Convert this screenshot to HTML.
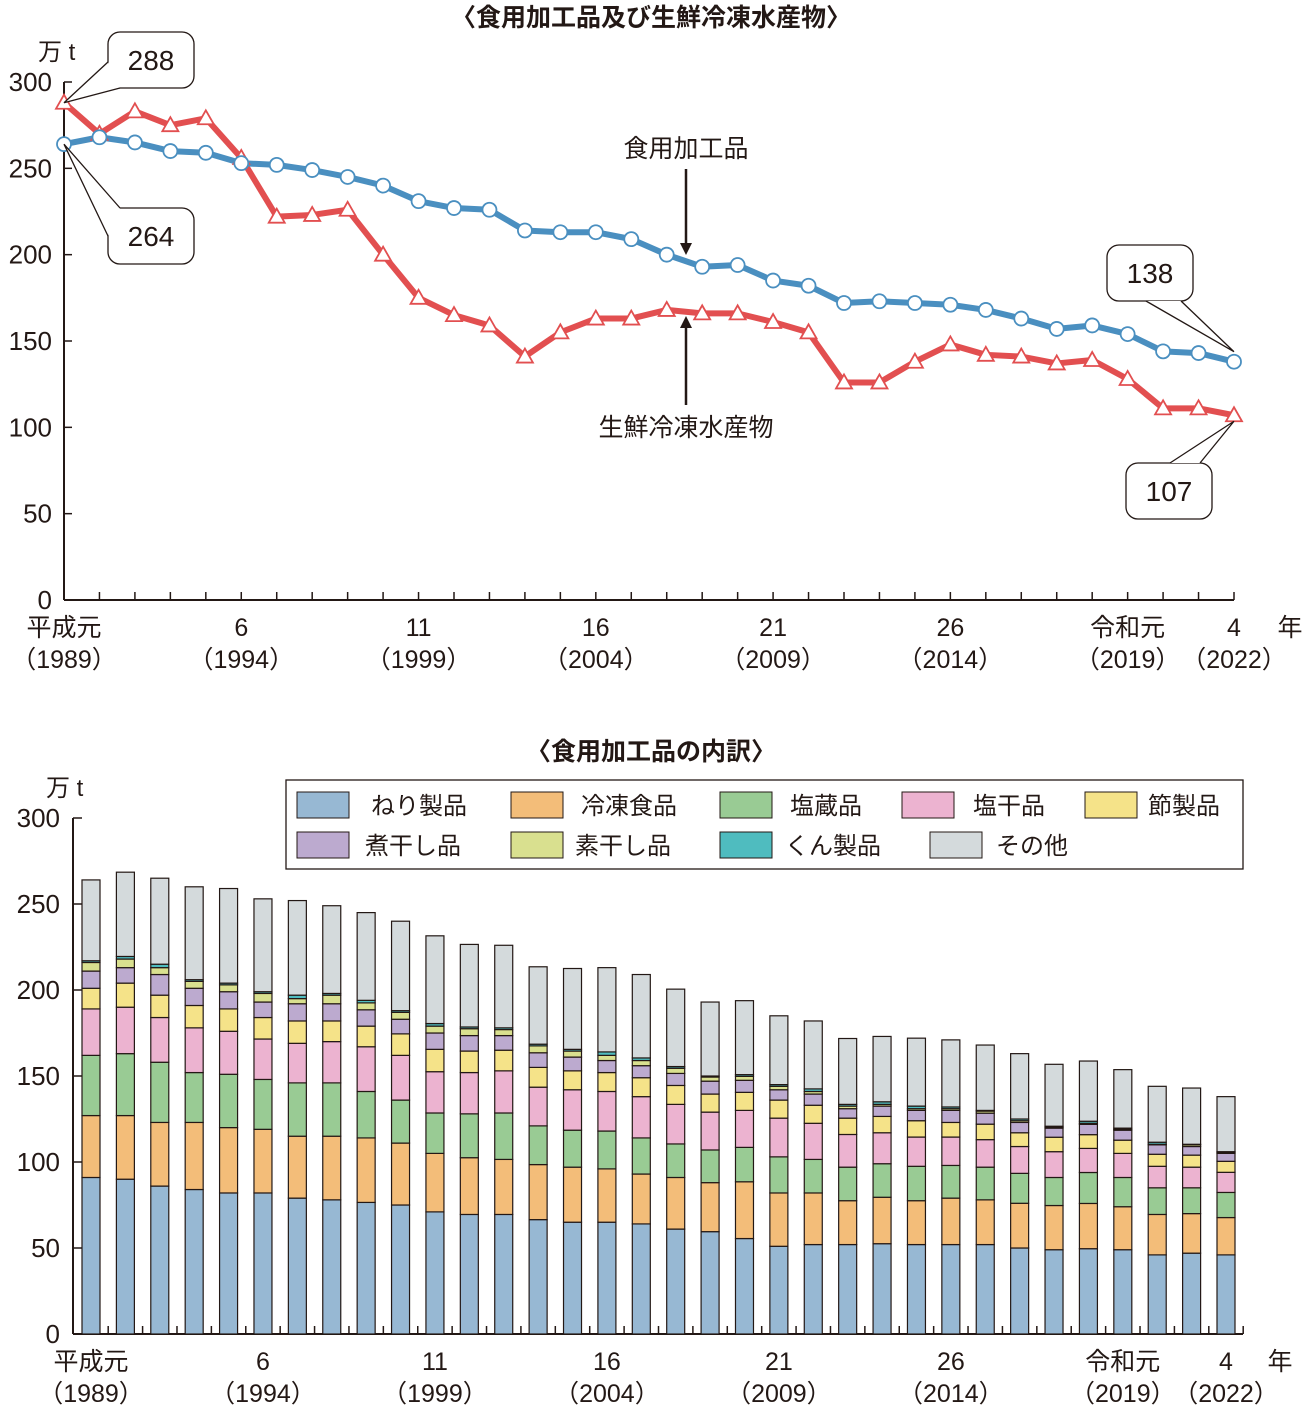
<!DOCTYPE html>
<html><head><meta charset="utf-8"><style>
html,body{margin:0;padding:0;background:#fff;}
svg{display:block;font-family:"Liberation Sans","Noto Sans CJK JP",sans-serif;}
</style></head><body>
<svg id="c" width="1302" height="1406" viewBox="0 0 1302 1406" xmlns="http://www.w3.org/2000/svg">
<text x="651" y="26" text-anchor="middle" font-size="25" font-weight="bold" fill="#231815">〈食用加工品及び生鮮冷凍水産物〉</text>
<text x="651" y="760" text-anchor="middle" font-size="25" font-weight="bold" fill="#231815">〈食用加工品の内訳〉</text>
<g id="topg"></g>
<g id="botg"></g>
</svg>
<script>
const years = [1989,1990,1991,1992,1993,1994,1995,1996,1997,1998,1999,2000,2001,2002,2003,2004,2005,2006,2007,2008,2009,2010,2011,2012,2013,2014,2015,2016,2017,2018,2019,2020,2021,2022];
const processedFood = [264,268,265,260,259,253,252,249,245,240,231,227,226,214,213,213,209,200,193,194,185,182,172,173,172,171,168,163,157,159,154,144,143,138];
const freshFrozen = [288,270,283,275,279,256,222,223,226,200,175,165,159,141,155,163,163,168,166,166,161,155,126,126,138,148,142,141,137,139,128,111,111,107];
const yTicks = [0,50,100,150,200,250,300];
const xLabelsTop = ["平成元","6","11","16","21","26","令和元","4"];
const xLabelsYears = ["（1989）","（1994）","（1999）","（2004）","（2009）","（2014）","（2019）","（2022）"];
const labelIdx = [0,5,10,15,20,25,30,33];

const seriesNames = ["ねり製品","冷凍食品","塩蔵品","塩干品","節製品","煮干し品","素干し品","くん製品","その他"];
const neri = [91,90,86,84,82,82,79,78,76.5,75,71,69.5,69.5,66.5,65,65,64,61,59.5,55.5,51,52,52,52.5,52,52,52,50,49,49.6,49,46,47,46];
const reitou = [36,37,37,39,38,37,36,37,37.5,36,34,33,32,32,32,31,29,30,28.5,33,31,30,25.5,27,25.5,27,26,26,25.7,26.3,25,23.5,23,21.7];
const enzou = [35,36,35,29,31,29,31,31,27,25,23.5,25.5,27,22.5,21.5,22,21,19.5,19,20,21,19.5,19.5,19.5,20,19,19,17.4,16.3,18,17,15.5,15,14.6];
const enkan = [27,27,26,26,25,23.5,23,24,26,26,24,24,24.5,22.5,23.5,23,24,23,22,21.5,22.5,21,19,18,17,16.5,16,15.6,15,14,14,12.5,12,11.7];
const bushi = [12,14,13,13,13,12.5,13,12,12,12.5,13,12.5,12,11.5,11,11,11,11,10.5,10.5,10.5,10.5,9.5,9.5,9.5,8.5,9,8,8.4,8,7.7,7,7,6.4];
const niboshi = [10,9,12,10,10,9,10,10,9.5,8.5,9.5,9,8.5,8.5,8,7,7,7,7.5,7,6,6.5,5.5,6,6,7,6.4,6,5.3,6,5.8,5.5,5,4.6];
const suboshi = [5,5,4,4,4,5,3,5,4,4,4,4,3.5,4,3.5,3,3,3,2.4,2.3,2,1.5,1.5,1,1,1,1.2,1,0.5,0.6,0.5,0.3,1,0.7];
const kunsei = [1,1.5,2,1,1,1,2,1,1.5,1,1.5,1,1,1,1,2,1.5,1,0.6,1,1,1.5,1,1.5,1.5,1,0.4,1,0.6,1.2,0.7,1.2,0.3,0.3];
const sonota = [47,49,50,54,55,54,55,51,51,52,51,48,48,45,47,49,48.5,45,43,43,40,39.5,38.3,38,39.5,39,38,38,36,35,34,32.5,32.7,32];
const seriesColors = ["#97b8d3","#f3bd79","#99cb94","#ecb3d0","#f5e389","#bcaacf","#d9e08f","#4fbcbf","#d4dadc"];

const NS="http://www.w3.org/2000/svg";
function mk(tag, attrs, parent, text){const el=document.createElementNS(NS,tag);for(const k in attrs)el.setAttribute(k,attrs[k]);if(text!==undefined)el.textContent=text;parent.appendChild(el);return el;}
const topG=document.getElementById('topg'), botG=document.getElementById('botg');
const INK="#231815";

// ---------- TOP LINE CHART ----------
const tx0=64, tx1=1234, ty0=600, ty300=82;
const txS = i => tx0 + i*(tx1-tx0)/(years.length-1);
const tyS = v => ty0 - v*(ty0-ty300)/300;
let e;
e=mk('line',{x1:tx0,y1:ty300,x2:tx0,y2:ty0,stroke:INK,'stroke-width':2},topG);


e=mk('line',{x1:tx0,y1:ty0,x2:tx1,y2:ty0,stroke:INK,'stroke-width':2},topG);


yTicks.forEach(v=>{
  if(v>0){e=mk('line',{x1:tx0,y1:tyS(v),x2:tx0+8,y2:tyS(v),stroke:INK,'stroke-width':1.5},topG);
  
  }
  e=mk('text',{x:52,y:tyS(v)+9,'text-anchor':'end','font-size':26,fill:INK},topG,String(v));
  
  
});
e=mk('text',{x:38,y:60,'font-size':24,fill:INK},topG,"万 t");


years.forEach((y,i)=>{ if(i>0){e=mk('line',{x1:txS(i),y1:ty0,x2:txS(i),y2:ty0-8,stroke:INK,'stroke-width':1.5},topG);
  
  }});
labelIdx.forEach((li,k)=>{
  e=mk('text',{x:txS(li),y:636,'text-anchor':'middle','font-size':25,fill:INK},topG,xLabelsTop[k]);
  
  
  e=mk('text',{x:txS(li),y:668,'text-anchor':'middle','font-size':25,fill:INK},topG,xLabelsYears[k]);
  
  
});
e=mk('text',{x:1290,y:636,'text-anchor':'middle','font-size':25,fill:INK},topG,"年");



e=mk('polyline',{points:freshFrozen.map((v,i)=>txS(i)+','+tyS(v)).join(' '),fill:'none',stroke:'#e24f50','stroke-width':6,'stroke-linejoin':'round'},topG);


e=mk('polyline',{points:processedFood.map((v,i)=>txS(i)+','+tyS(v)).join(' '),fill:'none',stroke:'#4a8fc0','stroke-width':6,'stroke-linejoin':'round'},topG);


freshFrozen.forEach((v,i)=>{const x=txS(i),y=tyS(v);
  e=mk('polygon',{points:`${x},${y-8} ${x-8},${y+6} ${x+8},${y+6}`,fill:'#fff',stroke:'#e24f50','stroke-width':1.8},topG);
  
  });
processedFood.forEach((v,i)=>{
  e=mk('circle',{cx:txS(i),cy:tyS(v),r:7,fill:'#fff',stroke:'#4a8fc0','stroke-width':1.8},topG);
  
  });

function callout(bx,by,bw,bh,b1,b2,tipx,tipy,txt,name){
  const g=mk('g',{},topG);
  
  
  mk('rect',{x:bx,y:by,width:bw,height:bh,rx:12,fill:'#fff',stroke:INK,'stroke-width':1.3},g);
  mk('polygon',{points:`${b1[0]},${b1[1]} ${tipx},${tipy} ${b2[0]},${b2[1]}`,fill:'#fff',stroke:'none'},g);
  mk('polyline',{points:`${b1[0]},${b1[1]} ${tipx},${tipy} ${b2[0]},${b2[1]}`,fill:'none',stroke:INK,'stroke-width':1.3},g);
  mk('text',{x:bx+bw/2,y:by+bh/2+10,'text-anchor':'middle','font-size':28,fill:INK},g,txt);
}
callout(108,32,86,56,[108,62],[120,88],tx0,tyS(288),"288",'callout-288');
callout(108,208,86,56,[108,236],[120,208],tx0,tyS(264),"264",'callout-264');
callout(1107,245,86,56,[1146,301],[1181,301],tx1,tyS(138)-10,"138",'callout-138');
callout(1126,463,86,56,[1170,463],[1200,463],tx1,tyS(107)+6,"107",'callout-107');

e=mk('text',{x:686,y:157,'text-anchor':'middle','font-size':25,fill:INK},topG,"食用加工品");


e=mk('line',{x1:686,y1:169,x2:686,y2:245,stroke:INK,'stroke-width':2.5},topG);


mk('polygon',{points:'680,243 692,243 686,255',fill:INK},topG);
e=mk('text',{x:686,y:436,'text-anchor':'middle','font-size':25,fill:INK},topG,"生鮮冷凍水産物");


e=mk('line',{x1:686,y1:405,x2:686,y2:326,stroke:INK,'stroke-width':2.5},topG);


mk('polygon',{points:'680,328 692,328 686,316',fill:INK},topG);

// ---------- BOTTOM STACKED BARS ----------
const series=[neri,reitou,enzou,enkan,bushi,niboshi,suboshi,kunsei,sonota];
const bx0=91, bx1=1226, by0=1334, by300=818, bw=18;
const bxS = i => bx0 + i*(bx1-bx0)/(years.length-1);
const byS = v => by0 - v*(by0-by300)/300;
e=mk('line',{x1:73,y1:by300,x2:73,y2:by0,stroke:INK,'stroke-width':2},botG);


e=mk('line',{x1:73,y1:by0,x2:1243,y2:by0,stroke:INK,'stroke-width':2},botG);


yTicks.forEach(v=>{
  if(v>0){e=mk('line',{x1:73,y1:byS(v),x2:82,y2:byS(v),stroke:INK,'stroke-width':1.5},botG);
  
  }
  e=mk('text',{x:60,y:byS(v)+9,'text-anchor':'end','font-size':26,fill:INK},botG,String(v));
  
  
});
e=mk('text',{x:46,y:796,'font-size':24,fill:INK},botG,"万 t");


years.forEach((y,i)=>{
  const xm = bxS(i)+ (bx1-bx0)/(years.length-1)/2;
  e=mk('line',{x1:xm,y1:by0,x2:xm,y2:by0-8,stroke:INK,'stroke-width':1.5},botG);
  
  
  let cum=0;
  series.forEach((s,k)=>{
    const v=s[i];
    e=mk('rect',{x:bxS(i)-bw/2,y:byS(cum+v),width:bw,height:byS(cum)-byS(cum+v),fill:seriesColors[k],stroke:INK,'stroke-width':1.2},botG);
    
    
    cum+=v;
  });
});
labelIdx.forEach((li,k)=>{
  e=mk('text',{x:bxS(li),y:1370,'text-anchor':'middle','font-size':25,fill:INK},botG,xLabelsTop[k]);
  
  
  e=mk('text',{x:bxS(li),y:1402,'text-anchor':'middle','font-size':25,fill:INK},botG,xLabelsYears[k]);
  
  
});
e=mk('text',{x:1280,y:1370,'text-anchor':'middle','font-size':25,fill:INK},botG,"年");



const lg=mk('g',{},botG);


mk('rect',{x:286,y:780,width:957,height:89,fill:'#fff',stroke:INK,'stroke-width':1.3},lg);
const lgX=[[297,371],[511,581],[720,790],[902,973],[1085,1148]];
const lgX2=[[297,365],[511,575],[720,785],[930,996]];
series.forEach((s,k)=>{
  const row=k<5?0:1; const pos=row===0?lgX[k]:lgX2[k-5];
  const y=row===0?792:832;
  const g=mk('g',{},lg);
  
  
  mk('rect',{x:pos[0],y:y,width:52,height:26,fill:seriesColors[k],stroke:INK,'stroke-width':1},g);
  mk('text',{x:pos[1],y:y+22,'font-size':24,fill:INK},g,seriesNames[k]);
});
</script>
</body></html>
